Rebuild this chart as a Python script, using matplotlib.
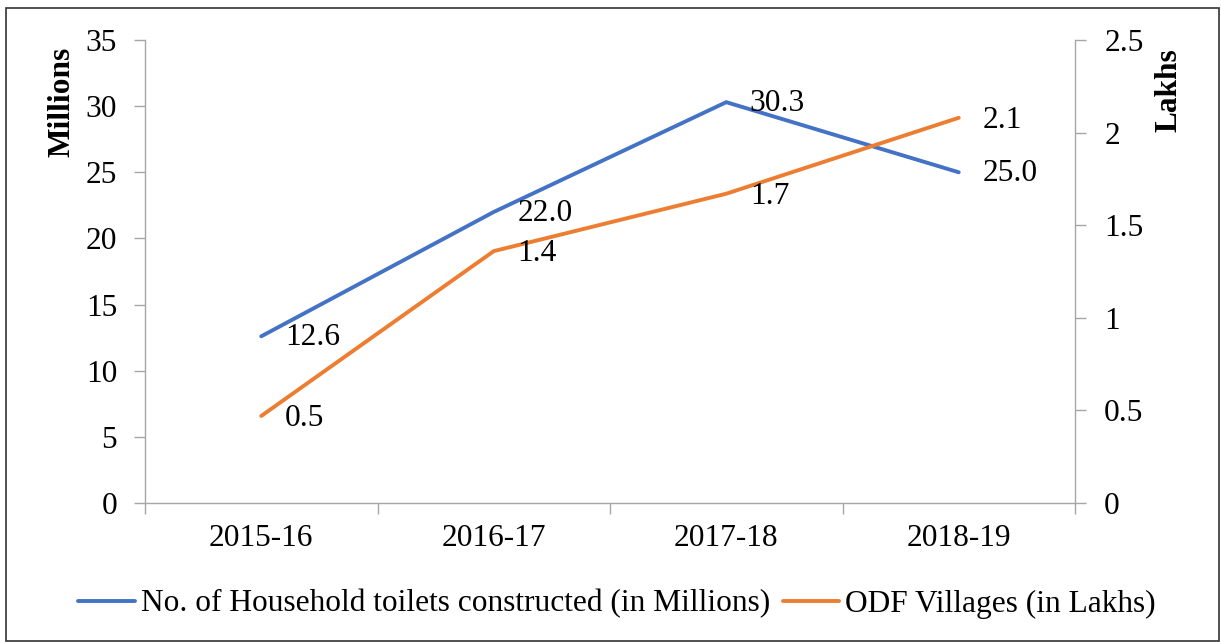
import matplotlib
matplotlib.use("Agg")
import matplotlib.pyplot as plt
from matplotlib.ticker import FixedLocator, NullFormatter
from matplotlib.patches import Rectangle

categories = ["2015-16", "2016-17", "2017-18", "2018-19"]
toilets_millions = [12.6, 22.0, 30.3, 25.0]
odf_lakhs = [0.47, 1.36, 1.67, 2.08]
left_ticks = [0, 5, 10, 15, 20, 25, 30, 35]
right_ticks = [0, 0.5, 1, 1.5, 2, 2.5]
right_tick_labels = ["0", "0.5", "1", "1.5", "2", "2.5"]
series_names = ["No. of Household toilets constructed (in Millions)", "ODF Villages (in Lakhs)"]

plt.rcParams['font.family'] = ['Liberation Serif', 'DejaVu Serif']
FS = 22.6
BLUE = "#4472C4"
ORANGE = "#ED7D31"
GRAY = "#A6A6A6"

W, H = 1221, 642
fig = plt.figure(figsize=(W / 100, H / 100), dpi=100)
ax = fig.add_axes([145 / W, 1 - 503 / H, (1075 - 145) / W, (503 - 40) / H])
ax2 = ax.twinx()

l1, = ax.plot(categories, toilets_millions, color=BLUE, lw=2.8, solid_capstyle='round', solid_joinstyle='miter')
l2, = ax2.plot(categories, odf_lakhs, color=ORANGE, lw=2.8, solid_capstyle='round', solid_joinstyle='miter')

ax.set_xlim(-0.5, len(categories) - 0.5)
ax.set_ylim(0, 35)
ax2.set_ylim(0, 2.5)
ax.set_yticks(left_ticks)
ax.set_yticklabels([str(t) for t in left_ticks])
ax2.set_yticks(right_ticks)
ax2.set_yticklabels(right_tick_labels)

ax.xaxis.set_minor_locator(FixedLocator([i - 0.5 for i in range(len(categories) + 1)]))
ax.xaxis.set_minor_formatter(NullFormatter())
ax.tick_params(axis='x', which='major', length=0, pad=15, labelsize=FS)
ax.tick_params(axis='x', which='minor', length=8, width=1, color=GRAY, direction='out')
ax.tick_params(axis='y', length=8, width=1, color=GRAY, direction='out', pad=12, labelsize=FS)
ax2.tick_params(axis='y', length=8, width=1, color=GRAY, direction='out', pad=13, labelsize=FS)

for a in (ax, ax2):
    for s in a.spines.values():
        s.set_visible(False)
ax.spines['left'].set_visible(True)
ax.spines['bottom'].set_visible(True)
ax2.spines['right'].set_visible(True)
for s in (ax.spines['left'], ax.spines['bottom'], ax2.spines['right']):
    s.set_color(GRAY)
    s.set_linewidth(1)

ax.set_ylabel("Millions", fontsize=FS, fontweight='bold')
ax.yaxis.set_label_coords(-0.074, 0.866)
ax2.set_ylabel("Lakhs", fontsize=FS, fontweight='bold', rotation=90)
ax2.yaxis.set_label_coords(1.085, 0.892)

for i, v in enumerate(toilets_millions):
    ax.annotate(f"{v:.1f}", (i, v), xytext=(17, -1), textcoords='offset points',
                va='center', ha='left', fontsize=FS)
for i, v in enumerate(odf_lakhs):
    ax2.annotate(f"{v:.1f}", (i, v), xytext=(17, -2), textcoords='offset points',
                 va='center', ha='left', fontsize=FS)

fig.legend([l1, l2], series_names, loc='center', bbox_to_anchor=(617 / W, 1 - 604 / H),
           ncol=2, frameon=False, fontsize=FS, handlelength=1.8, handletextpad=0.2,
           columnspacing=0.4, borderaxespad=0)

fig.patches.append(Rectangle((6 / W, 1 / H), (1219 - 6) / W, (641 - 7 - 1) / H,
                             transform=fig.transFigure, fill=False, edgecolor='#333333', lw=1.2))

fig.savefig("out.png", dpi=100)
